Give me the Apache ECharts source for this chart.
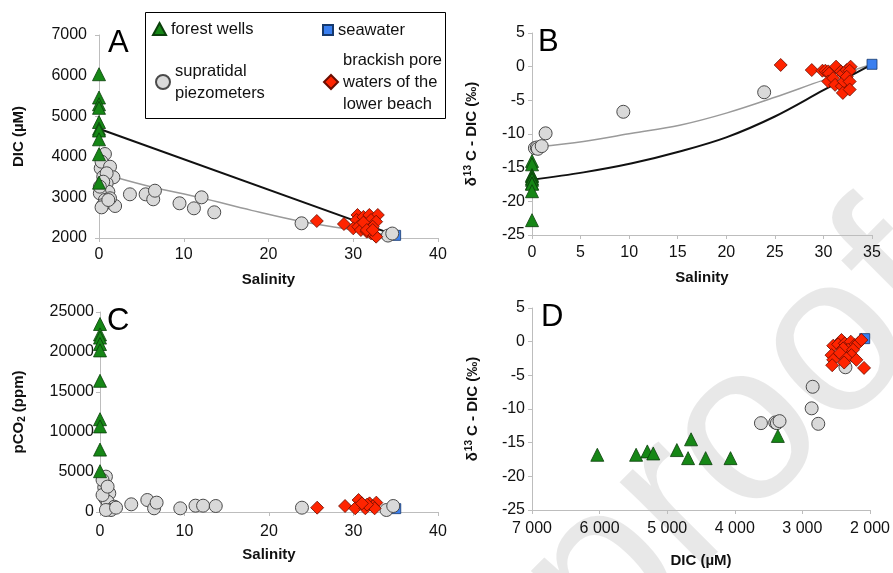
<!DOCTYPE html>
<html>
<head>
<meta charset="utf-8">
<script src="https://cdn.jsdelivr.net/npm/echarts@6/dist/echarts.min.js"></script>
<style>html,body{margin:0;padding:0;background:#fff}#c{width:893px;height:573px}</style>
</head>
<body>
<div id="c"></div>
<script>
// ---------- Data ----------
// Panel A : Salinity vs DIC (uM)
var forestA = [[0,6034],[0,5460],[0,5294],[0,5206],[0,4857],[0,4691],[0,4647],[0,4431],[0,4063],[0,3363]];
var piezoA = [[0.7,4069],[0.2,3717],[0.3,3880],[1.3,3756],[0.5,3510],[1.7,3495],[0.9,3347],[1.1,3140],[0.1,3100],[0.7,2936],[0.5,2813],[1.9,2788],[0.3,2755],[1.3,2978],[0.9,3594],[0.5,3387],[1.1,2936],[0.1,3264],[3.65,3076],[5.5,3076],[6.4,2953],[6.6,3165],[9.5,2855],[11.2,2731],[12.1,3002],[13.6,2633],[23.9,2362],[34.1,2060],[34.6,2110]];
var brackishA = [[25.7,2419],[28.9,2345],[30.5,2567],[30.4,2443],[31.2,2520],[31.9,2567],[32.9,2567],[32.1,2443],[32.7,2402],[30.0,2238],[30.6,2279],[30.9,2197],[31.6,2156],[32.1,2115],[32.5,2074],[32.7,2033],[32.3,2279],[31.2,2380],[31.6,2197],[32.3,2197]];
var seaA = [[35,2065]];
var mixBlackA = [[0,4690],[35,2065]];
var mixGrayA = [[1.7,3510],[6,3270],[12,2990],[18,2680],[24,2400],[30,2200],[35,2065]];

// Panel B : Salinity vs d13C-DIC
var forestB = [[0,-14.0],[0,-14.5],[0,-16.1],[0,-16.3],[0,-16.6],[0,-16.8],[0,-17.3],[0,-17.4],[0,-18.5],[0,-22.8]];
var piezoB = [[0.3,-12.1],[0.5,-12.0],[0.6,-12.2],[1.0,-11.8],[1.4,-9.9],[9.4,-6.7],[23.9,-3.8]];
var brackishB = [[25.6,0.25],[28.8,-0.5],[29.9,-0.6],[30.2,-0.6],[30.5,-0.7],[30.6,-1.0],[31.3,0.0],[31.8,-0.7],[32.0,-1.0],[32.4,-0.5],[32.8,0.0],[32.7,-0.6],[30.5,-2.2],[31.0,-1.7],[31.2,-2.7],[31.9,-2.9],[32.1,-2.2],[32.4,-1.5],[32.7,-2.2],[32.0,-3.9],[32.7,-3.4]];
var seaB = [[35,0.35]];
var mixBlackB = [[0,-16.8],[5.3,-15.7],[10.3,-14.35],[15.2,-12.6],[20,-10.5],[25,-7.4],[30,-3.5],[35,0.35]];
var mixGrayB = [[0.5,-11.9],[5.3,-11.1],[10.3,-9.9],[15.2,-8.7],[20,-6.9],[25,-4.55],[30,-2.0],[35,0.35]];

// Panel C : Salinity vs pCO2 (ppm)
var forestC = [[0,23500],[0,22200],[0,21800],[0,21000],[0,20200],[0,16400],[0,11600],[0,10700],[0,7800],[0,5100]];
var piezoC = [[0.7,4420],[0.5,3080],[0.3,4000],[0.6,1710],[1.1,2330],[0.9,1290],[1.7,660],[1.3,250],[0.7,250],[1.9,540],[0.3,2120],[0.9,3170],[3.7,960],[5.6,1500],[6.4,460],[6.7,1170],[9.5,460],[11.3,790],[12.2,790],[13.7,750],[23.9,540],[33.9,250],[34.7,750]];
var brackishC = [[25.7,540],[29.0,750],[30.6,1500],[30.2,460],[31.4,460],[31.9,1080],[32.7,1170],[32.3,710],[32.5,460],[31.6,920],[31.0,1080]];
var seaC = [[35,420]];

// Panel D : DIC (uM) vs d13C-DIC
var forestD = [[6034,-16.8],[5460,-16.8],[5294,-16.3],[5206,-16.6],[4857,-16.1],[4691,-17.3],[4647,-14.5],[4431,-17.3],[4063,-17.3],[3363,-14.0]];
var piezoD = [[3613,-12.1],[3402,-12.0],[3377,-12.1],[3338,-11.8],[2848,-6.7],[2863,-9.9],[2765,-12.2],[2363,-3.8]];
var brackishD = [[2422,0.25],[2544,-0.6],[2471,-0.4],[2372,-0.25],[2284,0.0],[2225,-0.5],[2176,-0.25],[2128,0.25],[2324,-1.2],[2397,-1.0],[2250,-1.2],[2569,-2.0],[2446,-1.7],[2275,-2.0],[2544,-2.7],[2349,-2.5],[2201,-2.7],[2559,-3.5],[2088,-3.9],[2382,-3.1]];
var seaD = [[2078,0.45]];

var names = ['forest wells','supratidal piezometers','seawater','brackish pore waters of the lower beach'];

// ---------- Styles ----------
var FONT = "'Liberation Sans', Arial, Helvetica, sans-serif";
var AX = '#bdbdbd';
var sty = {
  forest: {symbol:'triangle', symbolSize:13, itemStyle:{color:'#168716', borderColor:'#0b3f0b', borderWidth:0.8, opacity:1}},
  piezo: {symbol:'circle', symbolSize:13, itemStyle:{color:'#d9d9d9', borderColor:'#4a4a4a', borderWidth:1, opacity:1}},
  sea: {symbol:'rect', symbolSize:10, itemStyle:{color:'#3a7ff0', borderColor:'#16396d', borderWidth:0.8, opacity:1}},
  brackish: {symbol:'diamond', symbolSize:13, itemStyle:{color:'#ff2400', borderColor:'#6a0d00', borderWidth:0.8, opacity:1}}
};

function scatter(name, key, data, idx){
  var s = sty[key];
  return {type:'scatter', name:name, xAxisIndex:idx, yAxisIndex:idx, data:data,
    symbol:s.symbol, symbolSize:s.symbolSize, itemStyle:s.itemStyle, z:3, animation:false};
}
function line(data, idx, color, w){
  return {type:'line', data:data, xAxisIndex:idx, yAxisIndex:idx, symbol:'none', smooth:0.35,
    lineStyle:{color:color, width:w}, z:2, animation:false, silent:true};
}
function axisBase(o){
  var base = {
    type:'value', axisLine:{show:true, onZero:false, lineStyle:{color:AX, width:1}},
    axisTick:{show:true, length:4, lineStyle:{color:AX}},
    splitLine:{show:false},
    axisLabel:{color:'#111', fontSize:16, fontFamily:FONT, formatter:function(v){return String(v);}},
    nameLocation:'middle',
    nameTextStyle:{color:'#111', fontSize:15, fontWeight:'bold', fontFamily:FONT}
  };
  for (var k in o){ if(k==='axisLabel'){ for (var j in o[k]) base.axisLabel[j]=o[k][j]; } else base[k]=o[k]; }
  return base;
}
var deltaName = '{d|δ}{s|13}{d| C - DIC (‰)}';
var deltaRich = {d:{fontSize:15, fontWeight:'bold', fontFamily:FONT, color:'#111'},
                 s:{fontSize:10, fontWeight:'bold', fontFamily:FONT, color:'#111', padding:[0,0,7,1]}};
var pco2Name = '{d|pCO}{s|2}{d| (ppm)}';
var pco2Rich = {d:{fontSize:15, fontWeight:'bold', fontFamily:FONT, color:'#111'},
                 s:{fontSize:10, fontWeight:'bold', fontFamily:FONT, color:'#111', padding:[6,0,0,0]}};

var option = {
  backgroundColor:'#fff',
  animation:false,
  textStyle:{fontFamily:FONT},
  grid:[
    {left:99, right:455, top:35, bottom:335},
    {left:532, right:21, top:33, bottom:338},
    {left:100, right:455, top:312, bottom:61},
    {left:532, right:21, top:308, bottom:63}
  ],
  xAxis:[
    axisBase({gridIndex:0, min:0, max:40, interval:10, name:'Salinity', nameGap:34, axisLabel:{margin:9}}),
    axisBase({gridIndex:1, min:0, max:35, interval:5, name:'Salinity', nameGap:35, axisLabel:{margin:10}}),
    axisBase({gridIndex:2, min:0, max:40, interval:10, name:'Salinity', nameGap:35, axisLabel:{margin:12}}),
    axisBase({gridIndex:3, min:2000, max:7000, interval:1000, inverse:true, name:'DIC (µM)', nameGap:43,
      axisLabel:{margin:11, formatter:function(v){ var s=String(v); return s.slice(0,s.length-3)+' '+s.slice(-3);}}})
  ],
  yAxis:[
    axisBase({gridIndex:0, min:2000, max:7000, interval:1000, name:'DIC (µM)', nameGap:73, axisLabel:{margin:12}}),
    axisBase({gridIndex:1, min:-25, max:5, interval:5, name:deltaName, nameGap:52, nameTextStyle:{rich:deltaRich}, axisLabel:{margin:7}}),
    axisBase({gridIndex:2, min:0, max:25000, interval:5000, name:pco2Name, nameGap:73, nameTextStyle:{rich:pco2Rich}, axisLabel:{margin:6}}),
    axisBase({gridIndex:3, min:-25, max:5, interval:5, name:deltaName, nameGap:51, nameTextStyle:{rich:deltaRich}, axisLabel:{margin:7}})
  ],
  legend:[
    {data:[names[0]], left:152, top:18, padding:0, selectedMode:false, itemWidth:13, itemHeight:12,
     textStyle:{fontSize:16.5, fontFamily:FONT, color:'#111', lineHeight:22}},
    {data:[names[2]], left:322, top:19, padding:0, selectedMode:false, itemWidth:10, itemHeight:10,
     textStyle:{fontSize:16.5, fontFamily:FONT, color:'#111', lineHeight:22}},
    {data:[names[1]], left:155, top:60, padding:0, selectedMode:false, itemWidth:14, itemHeight:14,
     formatter:function(){return 'supratidal\npiezometers';},
     textStyle:{fontSize:16.5, fontFamily:FONT, color:'#111', lineHeight:22}},
    {data:[names[3]], left:323, top:49, padding:0, selectedMode:false, itemWidth:14, itemHeight:14,
     formatter:function(){return 'brackish pore\nwaters of the\nlower beach';},
     textStyle:{fontSize:16.5, fontFamily:FONT, color:'#111', lineHeight:22}}
  ],
  graphic:[
    {type:'text', x:742, y:440, rotation:Math.PI/4, z:-10, silent:true,
     style:{text:'proof', fontSize:225, fontFamily:FONT, fill:'rgba(0,0,0,0.09)', align:'center', verticalAlign:'middle'}},
    {type:'rect', shape:{x:145.5, y:12.5, width:300, height:106}, style:{fill:'#fff', stroke:'#000', lineWidth:1}, z:1},
    {type:'text', x:108, y:28, style:{text:'A', fontSize:31, fontFamily:FONT, fill:'#000'}, z:5},
    {type:'text', x:538, y:27, style:{text:'B', fontSize:31, fontFamily:FONT, fill:'#000'}, z:5},
    {type:'text', x:107, y:306, style:{text:'C', fontSize:31, fontFamily:FONT, fill:'#000'}, z:5},
    {type:'text', x:541, y:302, style:{text:'D', fontSize:31, fontFamily:FONT, fill:'#000'}, z:5}
  ],
  series:[
    line(mixGrayA,0,'#9a9a9a',1.5), line(mixBlackA,0,'#111',2),
    scatter(names[2],'sea',seaA,0), scatter(names[1],'piezo',piezoA,0),
    scatter(names[3],'brackish',brackishA,0), scatter(names[0],'forest',forestA,0),

    line(mixGrayB,1,'#9a9a9a',1.5), line(mixBlackB,1,'#111',2),
    scatter(names[2],'sea',seaB,1), scatter(names[1],'piezo',piezoB,1),
    scatter(names[3],'brackish',brackishB,1), scatter(names[0],'forest',forestB,1),

    scatter(names[2],'sea',seaC,2), scatter(names[1],'piezo',piezoC,2),
    scatter(names[3],'brackish',brackishC,2), scatter(names[0],'forest',forestC,2),

    scatter(names[2],'sea',seaD,3), scatter(names[1],'piezo',piezoD,3),
    scatter(names[3],'brackish',brackishD,3), scatter(names[0],'forest',forestD,3)
  ]
};
var chart = echarts.init(document.getElementById('c'), null, {renderer:'canvas'});
chart.setOption(option);
</script>
</body>
</html>
